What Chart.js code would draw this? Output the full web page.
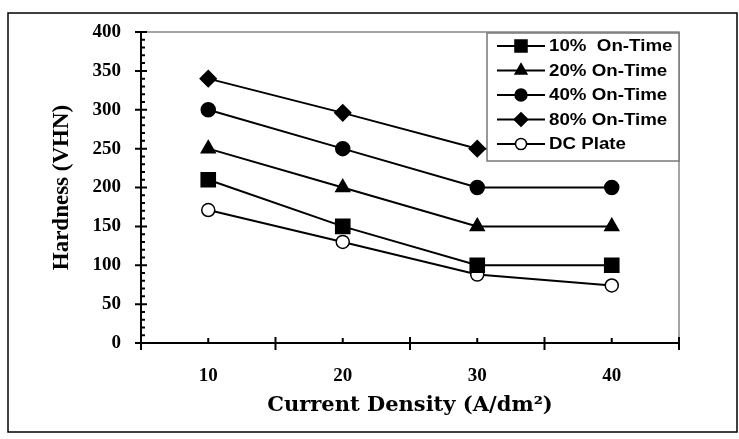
<!DOCTYPE html>
<html>
<head>
<meta charset="utf-8">
<script src="https://cdn.jsdelivr.net/npm/chart.js@4.4.0/dist/chart.umd.min.js"></script>
<style>
  html, body { margin: 0; padding: 0; background: #fff; }
  #wrap { width: 739px; height: 439px; position: relative; }
</style>
</head>
<body>
<div id="wrap"><canvas id="myChart"></canvas></div>
<script>
// data
const densidad = ['10', '20', '30', '40'];
const on10 = [210, 150, 100, 100];
const on20 = [250, 200, 150, 150];
const on40 = [300, 250, 200, 200];
const on80 = [340, 296, 250, 250];
const dcPlate = [171, 130, 88, 74];
const yTicks = [0, 50, 100, 150, 200, 250, 300, 350, 400];

const series = [
    { label: '10%  On-Time', data: on10, pointStyle: 'rect', radius: 10, fill: '#000' },
    { label: '20% On-Time', data: on20, pointStyle: 'triangle', radius: 8, fill: '#000' },
    { label: '40% On-Time', data: on40, pointStyle: 'circle', radius: 7, fill: '#000' },
    { label: '80% On-Time', data: on80, pointStyle: 'rectRot', radius: 8, fill: '#000' },
    { label: 'DC Plate', data: dcPlate, pointStyle: 'circle', radius: 6.5, fill: '#fff' }
];

const datasets = series.map(s => ({
    label: s.label,
    data: s.data,
    borderColor: '#000',
    borderWidth: 2,
    pointStyle: s.pointStyle,
    pointRadius: s.radius,
    pointHoverRadius: s.radius,
    pointBackgroundColor: s.fill,
    pointBorderColor: '#000',
    pointBorderWidth: 1.5,
    fill: false,
    tension: 0
}));

// frame, plot border, tick marks and legend box
const decoraciones = {
    id: 'decoraciones',
    beforeDraw(chart) {
        const ctx = chart.ctx;
        const a = chart.chartArea;
        ctx.save();
        ctx.fillStyle = '#fff';
        ctx.fillRect(0, 0, chart.width, chart.height);
        ctx.strokeStyle = '#000';
        ctx.lineWidth = 1.5;
        ctx.strokeRect(8, 13, 729, 419);
        ctx.strokeStyle = '#888';
        ctx.lineWidth = 1.5;
        ctx.beginPath();
        ctx.moveTo(a.left, a.top);
        ctx.lineTo(a.right, a.top);
        ctx.lineTo(a.right, a.bottom);
        ctx.stroke();
        ctx.restore();
    },
    afterDraw(chart) {
        const ctx = chart.ctx;
        const a = chart.chartArea;
        const y = chart.scales.y;
        const x = chart.scales.x;
        ctx.save();
        ctx.strokeStyle = '#000';
        ctx.lineWidth = 2;
        ctx.beginPath();
        for (let v = 0; v <= 400; v += 10) {
            const py = y.getPixelForValue(v);
            if (v % 50 === 0) {
                ctx.moveTo(a.left - 6, py);
                ctx.lineTo(a.left + 6, py);
            } else {
                ctx.moveTo(a.left, py);
                ctx.lineTo(a.left + 4, py);
            }
        }
        const paso = (a.right - a.left) / densidad.length;
        for (let i = 0; i <= densidad.length; i++) {
            const px = a.left + i * paso;
            ctx.moveTo(px, a.bottom - 6);
            ctx.lineTo(px, a.bottom + 7);
        }
        densidad.forEach((d, i) => {
            const px = x.getPixelForValue(i);
            ctx.moveTo(px, a.bottom - 5);
            ctx.lineTo(px, a.bottom);
        });
        ctx.stroke();

        // leyenda
        const lx = 487, ly = 33, lw = 192, lh = 128;
        ctx.fillStyle = '#fff';
        ctx.fillRect(lx, ly, lw, lh);
        ctx.strokeStyle = '#777';
        ctx.lineWidth = 1.5;
        ctx.strokeRect(lx, ly, lw, lh);
        ctx.font = 'bold 16px "Liberation Sans", Arial, sans-serif';
        ctx.textBaseline = 'middle';
        chart.data.datasets.forEach((ds, i) => {
            const cy = 46 + i * 24.5;
            ctx.strokeStyle = '#000';
            ctx.lineWidth = 2;
            ctx.beginPath();
            ctx.moveTo(497, cy);
            ctx.lineTo(545, cy);
            ctx.stroke();
            ctx.fillStyle = ds.pointBackgroundColor;
            ctx.strokeStyle = '#000';
            ctx.lineWidth = 1.5;
            Chart.helpers.drawPoint(ctx, {
                pointStyle: ds.pointStyle,
                radius: ds.pointRadius * 0.85,
                rotation: 0,
                borderWidth: 1.5
            }, 521, cy);
            ctx.fillStyle = '#000';
            ctx.save();
            ctx.translate(549, cy + 1);
            ctx.scale(1.17, 1);
            ctx.fillText(ds.label, 0, 0);
            ctx.restore();
        });
        ctx.restore();
    }
};

const ctx = document.getElementById('myChart').getContext('2d');
const myChart = new Chart(ctx, {
    type: 'line',
    data: {
        labels: densidad,
        datasets: datasets
    },
    options: {
        responsive: true,
        maintainAspectRatio: false,
        animation: false,
        layout: {
            padding: { left: 0, right: 60, top: 32, bottom: 0 }
        },
        plugins: {
            legend: { display: false },
            tooltip: { enabled: false }
        },
        scales: {
            x: {
                type: 'category',
                offset: true,
                grid: { display: false, drawTicks: false },
                border: { display: true, color: '#000', width: 2 },
                ticks: {
                    padding: 22,
                    color: '#000',
                    font: { family: '"Liberation Serif", "Times New Roman", serif', size: 19, weight: 'bold' }
                },
                title: {
                    display: true,
                    text: 'Current Density (A/dm²)',
                    color: '#000',
                    padding: { top: 0, bottom: 21 },
                    font: { family: '"DejaVu Serif", serif', size: 21, weight: 'bold' }
                },
                afterFit(scale) { scale.height = 96; }
            },
            y: {
                min: 0,
                max: 400,
                afterBuildTicks(scale) { scale.ticks = yTicks.map(v => ({ value: v })); },
                grid: { display: false, drawTicks: false },
                border: { display: true, color: '#000', width: 2 },
                ticks: {
                    padding: 20,
                    color: '#000',
                    font: { family: '"Liberation Serif", "Times New Roman", serif', size: 19, weight: 'bold' }
                },
                title: {
                    display: true,
                    text: 'Hardness (VHN)',
                    color: '#000',
                    padding: { top: 48, bottom: 0 },
                    font: { family: '"Liberation Serif", "Times New Roman", serif', size: 23, weight: 'bold' }
                },
                afterFit(scale) { scale.width = 141; }
            }
        }
    },
    plugins: [decoraciones]
});
</script>
</body>
</html>
